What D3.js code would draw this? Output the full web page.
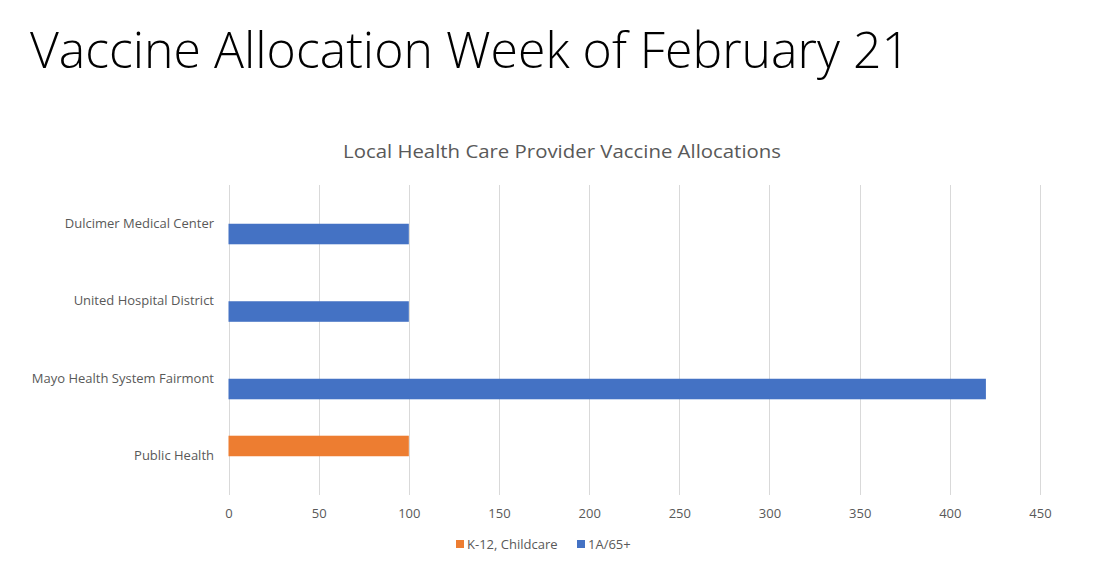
<!DOCTYPE html>
<html>
<head>
<meta charset="utf-8">
<script src="https://cdn.jsdelivr.net/npm/d3@7/dist/d3.min.js"></script>
<style>
  body { margin: 0; background: #fff; }
  svg { display: block; }
</style>
</head>
<body>
<div id="chart"></div>
<script>
var categories = ["Dulcimer Medical Center", "United Hospital District", "Mayo Health System Fairmont", "Public Health"];
var seriesNames = ["K-12, Childcare", "1A/65+"];
var k12Values = [0, 0, 0, 100];
var seniorValues = [100, 100, 420, 0];
var xTicks = [0, 50, 100, 150, 200, 250, 300, 350, 400, 450];
var colors = ["#ED7D31", "#4472C4"];

var width = 1097, height = 577;
var font = "'Open Sans', 'DejaVu Sans', sans-serif";
var textGrey = "#595959";

var svg = d3.select("#chart").append("svg")
    .attr("width", width)
    .attr("height", height);

// slide title
svg.append("text")
    .attr("x", 30)
    .attr("y", 68)
    .attr("font-family", font)
    .attr("font-weight", 300)
    .attr("font-size", 50)
    .attr("textLength", 880)
    .attr("lengthAdjust", "spacingAndGlyphs")
    .attr("fill", "#000")
    .text("Vaccine Allocation Week of February 21");

// chart title
svg.append("text")
    .attr("x", 562)
    .attr("y", 158)
    .attr("text-anchor", "middle")
    .attr("font-family", font)
    .attr("font-size", 18)
    .attr("textLength", 438)
    .attr("lengthAdjust", "spacingAndGlyphs")
    .attr("fill", textGrey)
    .text("Local Health Care Provider Vaccine Allocations");

var x = d3.scaleLinear()
    .domain([0, 450])
    .range([228.5, 1040]);

// one step per category, bars take ~53% of it
var y = d3.scaleBand()
    .domain(categories)
    .range([185, 495])
    .paddingInner(0.47)
    .paddingOuter(0.235);

var ySub = d3.scaleBand()
    .domain(seriesNames)
    .range([0, y.bandwidth()]);

// gridlines
svg.append("g")
    .selectAll("line")
    .data(xTicks)
    .join("line")
    .attr("x1", function (d) { return Math.round(x(d)) + 0.5; })
    .attr("x2", function (d) { return Math.round(x(d)) + 0.5; })
    .attr("y1", 185)
    .attr("y2", 495)
    .attr("stroke", "#d9d9d9")
    .attr("stroke-width", 1);

// x tick labels
var xAxis = svg.append("g")
    .attr("transform", "translate(0,495)")
    .call(d3.axisBottom(x).tickValues(xTicks).tickSize(0).tickPadding(14));
xAxis.select(".domain").remove();
xAxis.selectAll("text")
    .attr("font-family", font)
    .attr("font-size", 13)
    .attr("fill", textGrey);

// category labels
var yAxis = svg.append("g")
    .attr("transform", "translate(214,0)")
    .call(d3.axisLeft(y).tickSize(0).tickPadding(0));
yAxis.select(".domain").remove();
yAxis.selectAll("text")
    .attr("font-family", font)
    .attr("font-size", 13)
    .attr("fill", textGrey);

// bars
var rows = categories.map(function (c, i) {
    return { category: c, values: [k12Values[i], seniorValues[i]] };
});

var groups = svg.append("g")
    .selectAll("g")
    .data(rows)
    .join("g")
    .attr("transform", function (d) { return "translate(0," + y(d.category) + ")"; });

groups.selectAll("rect")
    .data(function (d) {
        return seriesNames.map(function (s, j) { return { series: s, value: d.values[j], idx: j }; });
    })
    .join("rect")
    .attr("x", x(0))
    .attr("y", function (d) { return ySub(d.series); })
    .attr("height", ySub.bandwidth())
    .attr("width", function (d) { return x(d.value) - x(0); })
    .attr("fill", function (d) { return colors[d.idx]; });

// legend
var legendX = [456, 577];
var legend = svg.append("g")
    .selectAll("g")
    .data(seriesNames)
    .join("g")
    .attr("transform", function (d, i) { return "translate(" + legendX[i] + ",540)"; });

legend.append("rect")
    .attr("width", 8)
    .attr("height", 8)
    .attr("fill", function (d, i) { return colors[i]; });

legend.append("text")
    .attr("x", 11)
    .attr("y", 8.5)
    .attr("font-family", font)
    .attr("font-size", 13)
    .attr("fill", textGrey)
    .text(function (d) { return d; });
</script>
</body>
</html>
